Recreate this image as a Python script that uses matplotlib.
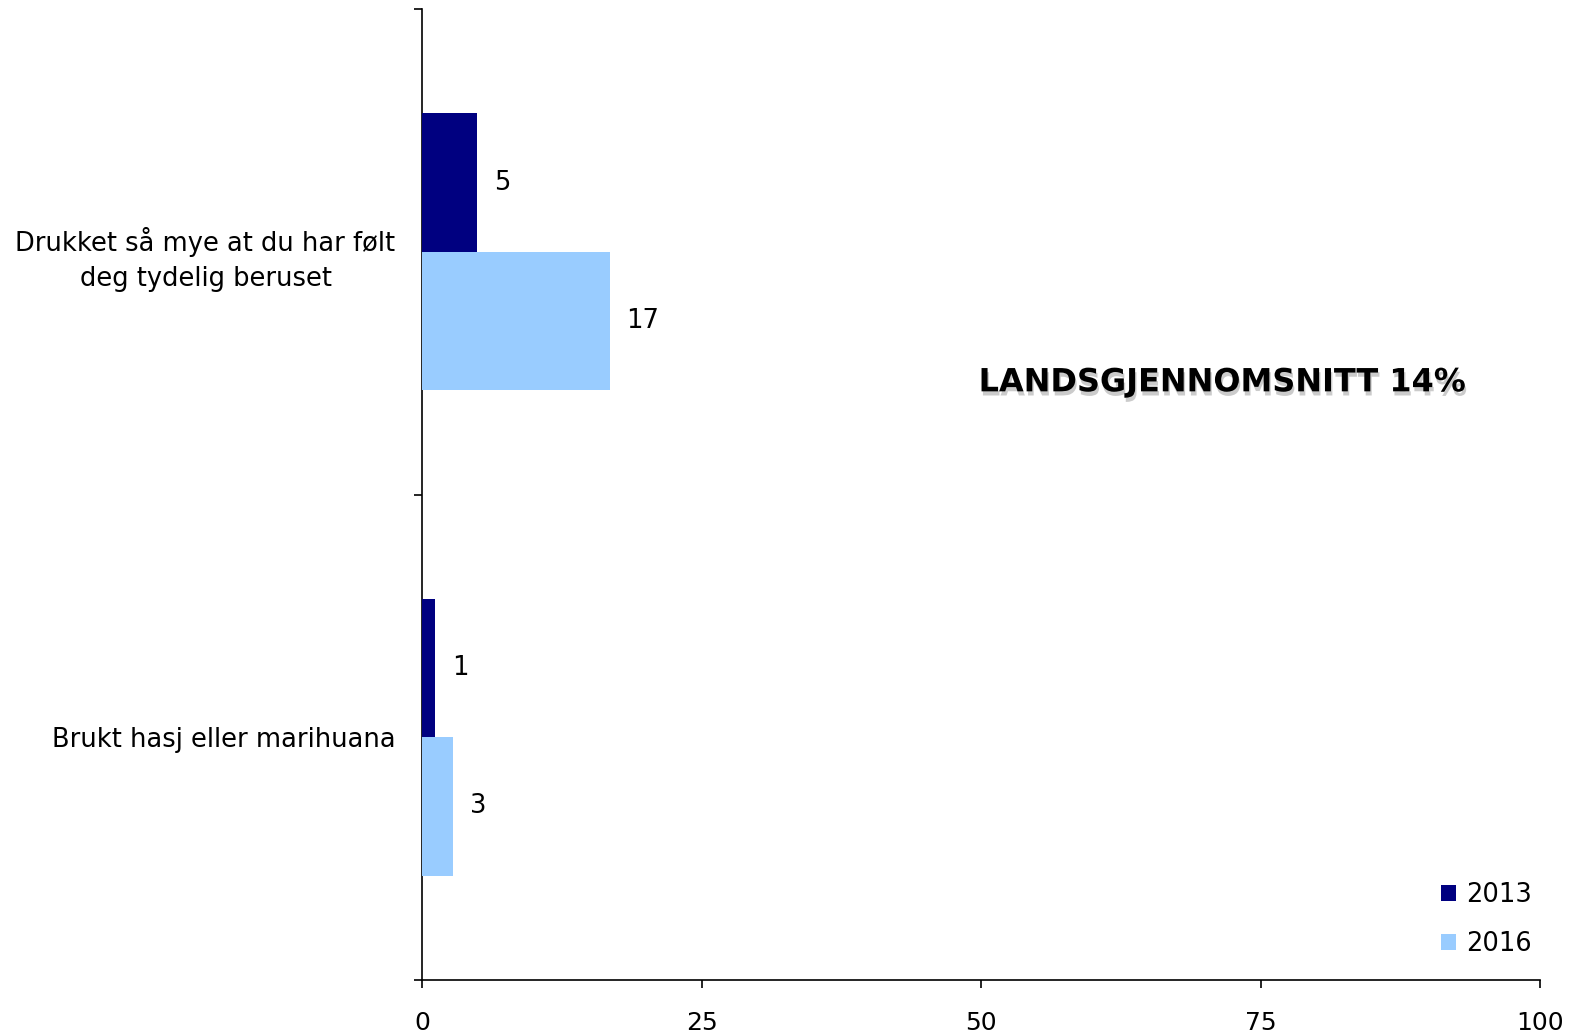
import matplotlib
matplotlib.use("Agg")
import matplotlib.pyplot as plt
import matplotlib.patheffects as pe
import numpy as np

categories = ["Drukket så mye at du har følt\ndeg tydelig beruset",
              "Brukt hasj eller marihuana"]
years = ["2013", "2016"]
values_2013 = [4.96, 1.2]
values_2016 = [16.8, 2.8]
colors = ["#000080", "#99CCFF"]
xticks = [0, 25, 50, 75, 100]
note = "LANDSGJENNOMSNITT 14%"

plt.rcParams['font.family'] = ['DejaVu Sans']

fig = plt.figure(figsize=(15.81, 10.36), dpi=100)
ax = fig.add_axes([422 / 1581, 1 - 980 / 1036, 1118 / 1581, 971 / 1036])

h = 0.285
centers = np.arange(len(categories)) + 0.5
series = [values_2013, values_2016]
for i, (vals, yr, col) in enumerate(zip(series, years, colors)):
    ypos = centers + (i - 0.5) * h
    ax.barh(ypos, vals, height=h, color=col, label=yr, zorder=3)
    for y, v in zip(ypos, vals):
        ax.annotate(f"{v:.0f}", (v, y), xytext=(12, 0), textcoords="offset points",
                    va="center", ha="left", fontsize=18.5)

ax.set_ylim(len(categories), 0)
ax.set_xlim(0, 100)
ax.set_yticks(np.arange(len(categories) + 1))
ax.set_yticklabels([])
ax.set_yticks(centers, minor=True)
ax.set_yticklabels(categories, minor=True, fontsize=18.5, multialignment="center",
                   linespacing=1.45)
ax.tick_params(axis="y", which="minor", length=0, pad=19)
ax.tick_params(axis="y", which="major", length=6, width=1.2, direction="out")
ax.set_xticks(xticks)
ax.set_xticklabels([str(t) for t in xticks], fontsize=18)
ax.tick_params(axis="x", length=6, width=1.2, direction="out", pad=16)

for s in ["top", "right"]:
    ax.spines[s].set_visible(False)
for s in ["left", "bottom"]:
    ax.spines[s].set_linewidth(1.2)

ax.text(71.6, 0.770, note, ha="center", va="center", fontsize=23,
        fontweight="bold",
        path_effects=[pe.withSimplePatchShadow(offset=(1, -3), shadow_rgbFace="#999999", alpha=0.5)])

leg = ax.legend(loc="lower right", frameon=False, fontsize=18.5, handlelength=0.6,
                handleheight=0.6, handletextpad=0.4, labelspacing=0.9,
                bbox_to_anchor=(1.009, 0.005), borderpad=0.2)

fig.savefig("out.png", dpi=100)
